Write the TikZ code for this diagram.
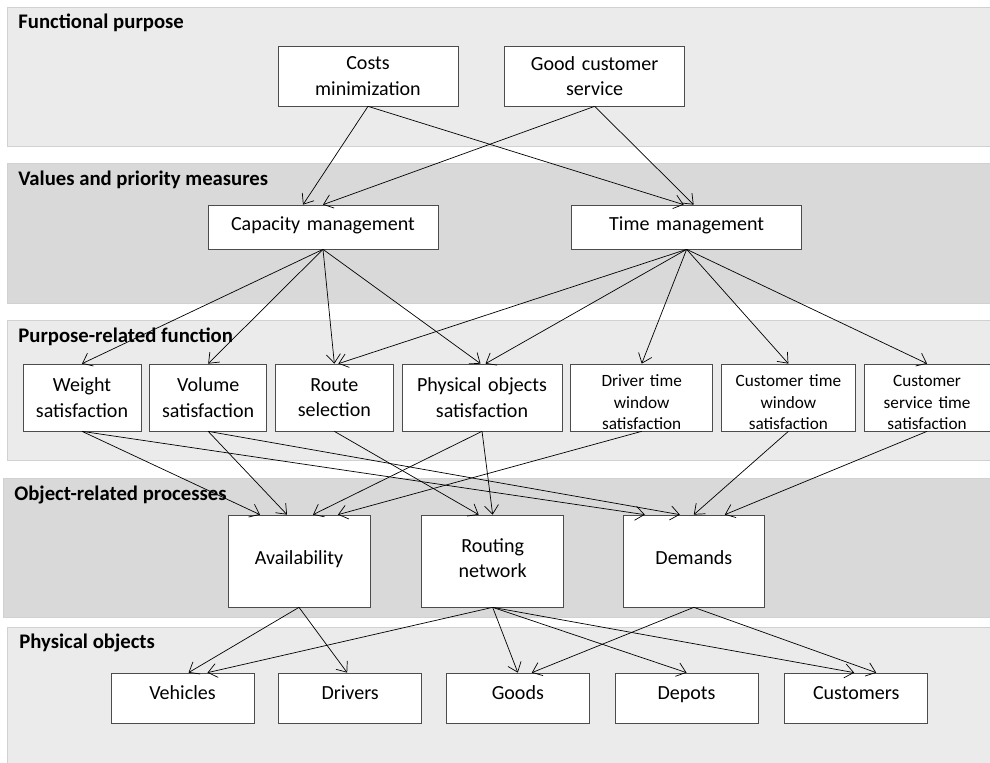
\documentclass[tikz,border=0pt]{standalone}
\usepackage{fontspec}
\setmainfont{Carlito}
\usetikzlibrary{arrows.meta,positioning}

\tikzset{
  band/.style={draw=black!18},
  lightband/.style={band,fill=black!8},
  darkband/.style={band,fill=black!15},
  bandlabel/.style={anchor=base west,inner sep=0pt,font=\fontsize{11.8}{14}\selectfont\bfseries},
  box/.style={draw=black!70,fill=white,align=center,inner sep=0pt,font=\fontsize{11.4}{14.4}\selectfont},
  smallbox/.style={box,font=\fontsize{9.8}{12}\selectfont,text height=12pt,text depth=24pt},
  onebox/.style={box,text height=8pt,text depth=3.7pt},
  objbox/.style={box,text height=8pt,text depth=5.9pt},
}

\begin{document}
\begin{tikzpicture}[x=0.02cm,y=-0.02cm,>={Straight Barb[length=5pt,width=8pt]}]
	\useasboundingbox (0,0) rectangle (990,763);
	% layers
	\draw[lightband] (7,7) rectangle (990,146);
	\draw[darkband]  (7,163) rectangle (990,303);
	\draw[lightband] (7,320) rectangle (990,460);
	\draw[darkband]  (3,478) rectangle (990,617);
	\draw[lightband] (7,627) rectangle (990,763);
	\node[bandlabel] (lfun) at (18,29)  {Functional purpose};
	\node[bandlabel] (lval) at (18,186) {Values and priority measures};
	\node[bandlabel] (lpur) at (18,342) {Purpose-related function};
	\node[bandlabel] (lobj) at (14,500) {Object-related processes};
	\node[bandlabel] (lphy) at (19,648) {Physical objects};
	
	% functional purpose
	\node[box,text width=3.6cm,minimum height=1.2cm] (costs) at (368,76) {Costs\\minimization};
	\node[box,text width=3.6cm,minimum height=1.2cm] (service) [right=0.92cm of costs] {Good customer\\service};
	
	% values and priority measures
	\node[onebox,text width=4.6cm,minimum height=0.88cm] (capacity) at (323,227) {Capacity management};
	\node[onebox,text width=4.6cm,minimum height=0.88cm] (time) [right=2.66cm of capacity] {Time management};
	
	% purpose-related functions
	\node[box,text width=2.36cm,minimum height=1.34cm] (weight) at (82,397.5) {Weight\\satisfaction};
	\node[box,text width=2.34cm,minimum height=1.34cm] (volume) [right=0.16cm of weight] {Volume\\satisfaction};
	\node[box,text width=2.36cm,minimum height=1.34cm] (route) [right=0.16cm of volume] {Route\\selection};
	\node[box,text width=3.2cm,minimum height=1.34cm] (physobj) [right=0.16cm of route] {Physical objects\\satisfaction};
	\node[smallbox,text width=2.84cm,minimum height=1.34cm] (driver) [right=0.16cm of physobj] {Driver time\\window\\satisfaction};
	\node[smallbox,text width=2.68cm,minimum height=1.34cm] (custwin) [right=0.16cm of driver] {Customer time\\window\\satisfaction};
	\node[smallbox,text width=2.52cm,minimum height=1.34cm] (custserv) [right=0.16cm of custwin] {Customer\\service time\\satisfaction};
	
	% object-related processes
	\node[onebox,text width=2.84cm,minimum height=1.84cm] (avail) at (299,561) {Availability};
	\node[box,text width=2.84cm,minimum height=1.84cm,text height=8pt,text depth=17.5pt] (routing) [right=1.02cm of avail] {Routing\\network};
	\node[onebox,text width=2.82cm,minimum height=1.84cm] (demands) [right=1.18cm of routing] {Demands};
	
	% physical objects
	\node[objbox,text width=2.86cm,minimum height=1cm] (vehicles) at (182.5,698) {Vehicles};
	\node[objbox,text width=2.86cm,minimum height=1cm] (drivers) [right=0.48cm of vehicles] {Drivers};
	\node[objbox,text width=2.86cm,minimum height=1cm] (goods) [right=0.48cm of drivers] {Goods};
	\node[objbox,text width=2.86cm,minimum height=1cm] (depots) [right=0.5cm of goods] {Depots};
	\node[objbox,text width=2.86cm,minimum height=1cm] (customers) [right=0.52cm of depots] {Customers};
	
	\path[->]
	(costs.south) edge ([xshift=-0.4cm]capacity.north)
	edge ([xshift=-0.06cm]time.north)
	(service.south) edge (capacity.north)
	edge ([xshift=0.14cm]time.north)
	(capacity.south) edge (weight.north)
	edge (volume.north)
	edge (route.north)
	edge ([xshift=-0.03cm]physobj.north)
	(time.south) edge ([xshift=0.08cm]route.north)
	edge ([xshift=0.07cm]physobj.north)
	edge (driver.north)
	edge (custwin.north)
	edge (custserv.north)
	(weight.south) edge ([xshift=-0.78cm]avail.north)
	edge ([xshift=-0.98cm]demands.north)
	(volume.south) edge ([xshift=-0.24cm]avail.north)
	edge ([xshift=-0.28cm]demands.north)
	(route.south) edge ([xshift=-0.28cm]routing.north)
	(physobj.south) edge ([xshift=0.28cm]avail.north)
	edge (routing.north)
	(driver.south) edge ([xshift=0.78cm]avail.north)
	(custwin.south) edge (demands.north)
	(custserv.south) edge ([xshift=0.62cm]demands.north)
	(avail.south) edge ([xshift=0.12cm]vehicles.north)
	edge ([xshift=-0.06cm]drivers.north)
	(routing.south) edge ([xshift=0.5cm]vehicles.north)
	edge (goods.north)
	edge (depots.north)
	edge ([xshift=-0.04cm]customers.north)
	(demands.south) edge ([xshift=0.28cm]goods.north)
	edge ([xshift=0.4cm]customers.north);
\end{tikzpicture}
\end{document}
